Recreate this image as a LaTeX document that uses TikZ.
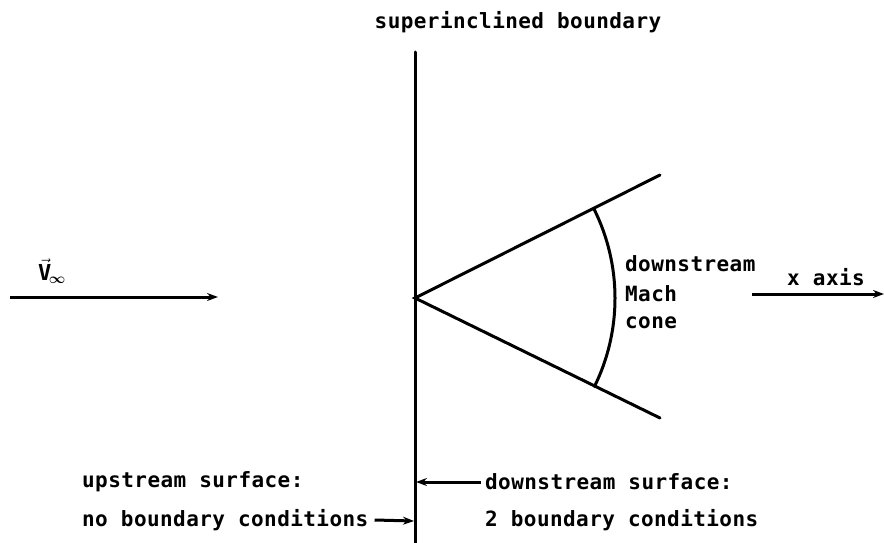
\documentclass[tikz,border=0pt]{standalone}
\usepackage{amsmath}
\usepackage{fontspec}
\setmainfont{DejaVu Sans Mono}[BoldFont={* Bold}]
\newfontfamily\tw{DejaVu Sans Mono Bold}[LetterSpace=2]
\usetikzlibrary{arrows.meta}
\begin{document}
\begin{tikzpicture}[x=1pt,y=-1pt,
  lbl/.style={font=\tw\fontsize{21}{24}\selectfont, inner sep=0pt, text=black},
  thick line/.style={line width=3pt, line cap=round},
  arr/.style={line width=3pt, -{Stealth[length=11pt,width=8pt]}}]
\useasboundingbox (0,0) rectangle (884,543);
% boundary
\coordinate (btop) at (415,52);
\coordinate (bbot) at (415,543);
\draw[thick line] (btop) -- (bbot);
\node[lbl] (title) at (518,22) {superinclined boundary};
% Mach cone
\coordinate (apex) at (415,298);
\coordinate (up) at (660,175);
\coordinate (lo) at (660,418);
\draw[thick line] (up) -- (apex) -- (lo);
\coordinate (arcS) at (594,209);
\draw[line width=3pt] (arcS) arc[start angle=-26.5, end angle=26.5, radius=200];
\node[lbl, anchor=west, align=left] (cone) at (625,292) {downstream\\[6pt]Mach\\[3pt]cone};
% free stream
\coordinate (vs) at (10,297);
\coordinate (ve) at (218,297);
\draw[arr] (vs) -- (ve);
\node[inner sep=0pt, font=\fontsize{22}{24}\selectfont] (vinf) at (52,271) {$\vec{\mathbf{V}}_{\!\boldsymbol{\infty}}$};
% x axis
\coordinate (xs) at (752,294);
\coordinate (xe) at (884,294);
\draw[arr] (xs) -- (xe);
\node[lbl] (xlab) at (826,277) {x axis};
% surfaces
\node[lbl, anchor=west] (ups) at (82,482) {upstream surface:};
\node[lbl, anchor=west] (nbc) at (82,520) {no boundary conditions};
\node[lbl, anchor=west] (dns) at (485,482) {downstream surface:};
\node[lbl, anchor=west] (tbc) at (485,520) {2 boundary conditions};
\coordinate (b1) at (416,482);
\coordinate (b2) at (414,521);
\draw[arr] ([xshift=-4pt]dns.west) -- (b1);
\draw[arr] ([xshift=6pt]nbc.east) -- (b2);
\end{tikzpicture}
\end{document}
